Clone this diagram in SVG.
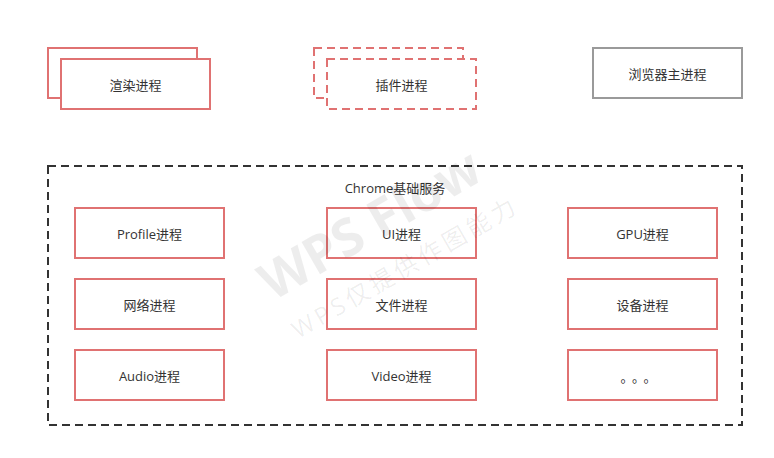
<svg xmlns="http://www.w3.org/2000/svg" width="774" height="458" viewBox="0 0 774 458">
<style>
.r{fill:#fff;stroke:#e07272;stroke-width:2}
.d{stroke-dasharray:8,5}
.g{fill:#fff;stroke:#9a9a9a;stroke-width:2}
.t{font-family:"Open Sans","Noto Sans CJK SC",sans-serif;font-size:13px;fill:#333;text-anchor:middle;dominant-baseline:central}
.w{font-family:"Open Sans","Noto Sans CJK SC",sans-serif;fill:#000;fill-opacity:0.07;text-anchor:middle}
</style>
<rect width="774" height="458" fill="#fff"/>
<g id="render">
<rect class="r" x="48" y="48" width="149" height="50"/>
<rect class="r" x="61" y="59" width="149" height="50"/>
<text class="t" x="135.5" y="85">渲染进程</text>
</g>
<g id="plugin">
<rect class="r d" x="314" y="48" width="149" height="50"/>
<rect class="r d" x="327" y="59" width="149" height="50"/>
<text class="t" x="401.5" y="85">插件进程</text>
</g>
<g id="browser">
<rect class="g" x="593" y="48" width="149" height="50"/>
<text class="t" x="667.5" y="74">浏览器主进程</text>
</g>
<g id="services">
<rect x="48" y="166" width="694" height="259" fill="none" stroke="#333" stroke-width="2" stroke-dasharray="8,5"/>
<text class="t" x="395" y="188">Chrome基础服务</text>
</g>
<g id="profile"><rect class="r" x="75" y="208" width="149" height="50"/><text class="t" x="149.5" y="234">Profile进程</text></g>
<g id="ui"><rect class="r" x="327" y="208" width="149" height="50"/><text class="t" x="401.5" y="234">UI进程</text></g>
<g id="gpu"><rect class="r" x="568" y="208" width="149" height="50"/><text class="t" x="642.5" y="234">GPU进程</text></g>
<g id="network"><rect class="r" x="75" y="279" width="149" height="50"/><text class="t" x="149.5" y="305">网络进程</text></g>
<g id="file"><rect class="r" x="327" y="279" width="149" height="50"/><text class="t" x="401.5" y="305">文件进程</text></g>
<g id="device"><rect class="r" x="568" y="279" width="149" height="50"/><text class="t" x="642.5" y="305">设备进程</text></g>
<g id="audio"><rect class="r" x="75" y="350" width="149" height="50"/><text class="t" x="149.5" y="376">Audio进程</text></g>
<g id="video"><rect class="r" x="327" y="350" width="149" height="50"/><text class="t" x="401.5" y="376">Video进程</text></g>
<g id="more"><rect class="r" x="568" y="350" width="149" height="50"/><text class="t" x="641" y="377" style="letter-spacing:5px">。。。</text></g>
<g id="connectors"></g>
<g id="watermark">
<text class="w" x="372" y="242" font-size="52" font-weight="bold" transform="rotate(-30 372 228)">WPS Flow</text>
<text class="w" x="405" y="276" font-size="24" style="letter-spacing:4px" transform="rotate(-30 405 267)">WPS仅提供作图能力</text>
</g>
</svg>
